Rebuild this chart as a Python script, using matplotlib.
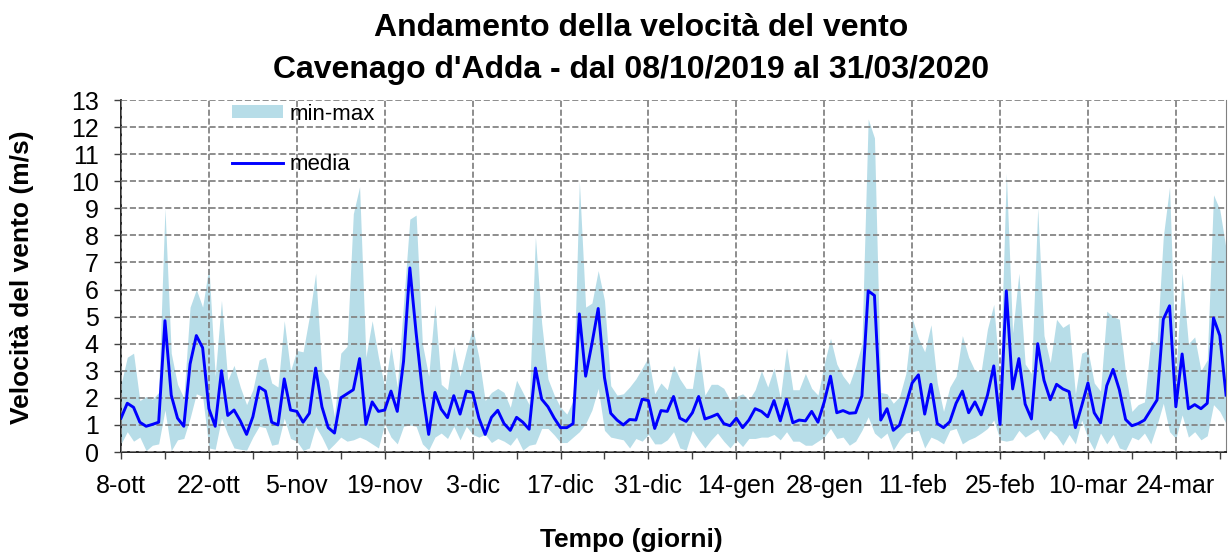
# Andamento della velocità del vento - Cavenago d'Adda (min-max band + daily mean)

import numpy as np
import matplotlib.pyplot as plt
from matplotlib.ticker import MultipleLocator

# daily values from 8 Oct 2019 on (m/s)
media = [1.25, 1.8, 1.65, 1.1, 0.95, 1.02, 1.1, 4.85, 2.1, 1.25,
         0.95, 3.25, 4.3, 3.85, 1.6, 0.95, 3.0, 1.35, 1.55, 1.15,
         0.65, 1.3, 2.4, 2.25, 1.1, 1.0, 2.7, 1.55, 1.5, 1.1,
         1.43, 3.1, 1.67, 0.9, 0.7, 2.0, 2.15, 2.3, 3.45, 1.02,
         1.85, 1.5, 1.55, 2.25, 1.5, 3.35, 6.8, 4.4, 2.25, 0.65,
         2.2, 1.58, 1.27, 2.08, 1.4, 2.25, 2.2, 1.25, 0.65, 1.28,
         1.54, 1.05, 0.8, 1.28, 1.1, 0.84, 3.1, 1.95, 1.67, 1.25,
         0.9, 0.9, 1.05, 5.1, 2.8, 4.0, 5.3, 2.75, 1.43, 1.18,
         1.0, 1.2, 1.18, 1.95, 1.9, 0.87, 1.53, 1.5, 2.05, 1.25,
         1.13, 1.45, 2.05, 1.22, 1.3, 1.4, 1.05, 0.97, 1.25, 0.9,
         1.18, 1.6, 1.5, 1.3, 1.9, 1.15, 1.95, 1.08, 1.18, 1.15,
         1.5, 1.1, 1.85, 2.8, 1.45, 1.53, 1.43, 1.45, 2.07, 5.95,
         5.78, 1.18, 1.6, 0.8, 1.0, 1.75, 2.55, 2.85, 1.4, 2.5,
         1.05, 0.9, 1.12, 1.8, 2.25, 1.45, 1.85, 1.37, 2.1, 3.18,
         1.02, 5.95, 2.33, 3.45, 1.77, 1.22, 4.0, 2.65, 1.93, 2.5,
         2.33, 2.23, 0.9, 1.7, 2.55, 1.45, 1.08, 2.45, 3.05, 2.3,
         1.2, 0.97, 1.05, 1.18, 1.55, 1.92, 4.9, 5.4, 1.67, 3.62,
         1.6, 1.75, 1.6, 1.8, 4.95, 4.3, 2.1]

vmax = [2.5, 3.5, 3.65, 1.9, 2.05, 1.95, 2.2, 9.0, 3.65, 2.5,
        2.0, 5.35, 6.0, 5.35, 6.85, 2.8, 5.6, 2.65, 3.2, 2.4,
        1.75, 2.3, 3.4, 3.5, 2.55, 2.4, 4.85, 3.0, 3.75, 3.7,
        5.0, 6.6, 3.0, 2.65, 1.3, 3.65, 3.9, 8.8, 9.8, 3.5,
        4.85, 3.5, 2.4, 3.9, 2.4, 5.5, 8.6, 8.75, 4.0, 2.8,
        5.45, 2.5, 2.3, 3.9, 2.8, 3.75, 4.6, 3.5, 1.9, 2.2,
        2.35, 2.2, 1.65, 2.65, 2.2, 1.75, 7.95, 4.75, 2.7, 2.1,
        1.65, 1.4, 1.9, 10.0, 5.35, 5.5, 6.7, 5.6, 2.45, 2.1,
        2.15, 2.4, 2.7, 3.1, 3.5, 2.15, 2.55, 2.3, 3.2, 2.7,
        2.35, 2.35, 3.9, 2.1, 2.5, 2.5, 2.35, 1.92, 2.05, 2.15,
        1.92, 2.3, 3.0, 2.4, 3.1, 2.0, 3.85, 2.3, 2.3, 2.9,
        2.35, 2.1, 3.25, 4.2, 3.25, 2.8, 2.5, 3.15, 4.0, 12.3,
        11.6, 2.2, 2.15, 1.8, 2.05, 2.9, 4.95, 4.2, 3.7, 4.7,
        2.55, 1.5, 2.4, 2.8, 4.3, 3.5, 3.0, 3.0, 4.55, 5.45,
        2.55, 10.3, 4.4, 6.6, 3.25, 2.9, 9.0, 4.3, 3.3, 4.9,
        4.6, 4.75, 2.15, 3.65, 3.75, 2.55, 2.25, 5.2, 5.0, 4.9,
        2.9, 1.5, 1.75, 1.85, 4.1, 4.0, 7.95, 9.8, 2.9, 6.6,
        4.0, 4.25, 3.0, 3.4, 9.5, 8.95, 7.5]

vmin = [0.3, 0.75, 0.4, 0.55, 0.05, 0.25, 0.3, 1.55, 0.05, 0.45,
        0.5, 1.25, 2.15, 2.05, 0.15, 0.1, 1.25, 0.65, 0.15, 0.1,
        0.07, 0.55, 0.95, 0.9, 0.25, 0.3, 1.25, 0.5, 0.4, 0.06,
        0.15, 0.95, 0.55, 0.07, 0.3, 0.55, 0.4, 0.45, 0.55, 0.45,
        0.3, 0.15, 1.05, 0.55, 0.3, 0.95, 1.0, 0.95, 0.3, 0.07,
        0.55, 0.7, 0.5, 0.95, 0.45, 0.95, 0.65, 0.55, 0.65, 0.35,
        0.5, 0.4, 0.25, 0.55, 0.07, 0.25, 0.3, 0.87, 0.87, 0.63,
        0.35, 0.35, 0.55, 0.75, 1.05, 1.55, 2.35, 0.8, 0.55, 0.5,
        0.45, 0.15, 0.5, 0.4, 0.65, 0.3, 0.3, 0.45, 0.75, 0.15,
        0.07, 0.8, 0.45, 0.15, 0.45, 0.7, 0.4, 0.15, 0.45, 0.2,
        0.5, 0.5, 0.55, 0.55, 0.65, 0.45, 0.75, 0.4, 0.4, 0.25,
        0.25, 0.4, 0.55, 0.87, 0.5, 0.55, 0.25, 0.4, 0.8, 1.3,
        0.7, 0.5, 0.7, 0.07, 0.45, 0.7, 0.75, 0.8, 0.15, 0.55,
        0.45, 0.3, 0.8, 0.87, 0.3, 0.45, 0.55, 0.7, 0.87, 1.18,
        0.45, 0.4, 0.45, 0.8, 0.55, 0.7, 0.85, 0.45, 0.8, 0.6,
        0.25, 0.65, 0.3, 1.18, 0.5, 0.07, 0.7, 0.3, 0.65, 0.15,
        0.07, 0.55, 0.45, 0.7, 0.3, 1.0, 1.8, 0.75, 0.5, 1.37,
        0.55, 0.75, 0.45, 0.6, 1.75, 1.5, 1.05]

tick_labels = ['8-ott', '22-ott', '5-nov', '19-nov', '3-dic', '17-dic', '31-dic',
               '14-gen', '28-gen', '11-feb', '25-feb', '10-mar', '24-mar']

plt.rcParams['font.family'] = ['Liberation Sans', 'DejaVu Sans']

giorni = np.arange(len(media))

fig = plt.figure(figsize=(12.31, 5.59), dpi=100)
ax = fig.add_axes([0.0983, 0.1914, 0.8977, 0.6297])

ax.fill_between(giorni, vmin, vmax, color='#b7dde8', lw=0, label='min-max', zorder=1)
ax.plot(giorni, media, color='#0000ff', lw=2.1, label='media', zorder=3)

ax.set_xlim(0, 176)
ax.set_ylim(0, 13)
ax.set_xticks(np.arange(0, 176, 14))
ax.set_xticklabels(tick_labels)
ax.xaxis.set_minor_locator(MultipleLocator(7))
ax.yaxis.set_major_locator(MultipleLocator(1))

ax.set_axisbelow(False)
ax.grid(True, which='major', color='#858585', ls=(0, (3.4, 1.5)), lw=1.3, zorder=2)

ax.tick_params(axis='both', which='both', direction='out', length=5, width=1,
               color='#404040', labelsize=18)
ax.tick_params(axis='x', pad=11)
ax.tick_params(axis='y', pad=11)

ax.spines['top'].set_visible(False)
ax.spines['right'].set_color('#808080')
ax.spines['left'].set_linewidth(1.2)
ax.spines['bottom'].set_linewidth(1.2)

fig.text(22 / 1231, 1 - 277 / 559, 'Velocità del vento (m/s)', rotation=90,
         ha='center', va='center', fontsize=19, fontweight='bold')
fig.text(631 / 1231, 0.034, 'Tempo (giorni)', ha='center', va='center',
         fontsize=19, fontweight='bold')

fig.text(0.521, 1 - 36 / 559, 'Andamento della velocità del vento', ha='center', va='baseline',
         fontsize=23, fontweight='bold')
fig.text(0.513, 1 - 78 / 559, "Cavenago d'Adda - dal 08/10/2019 al 31/03/2020", ha='center',
         va='baseline', fontsize=23, fontweight='bold')

ax.legend(loc='upper left', bbox_to_anchor=(0.1005, 0.99), frameon=False, fontsize=16,
          handlelength=2.3, handleheight=0.55, handletextpad=0.27, labelspacing=1.32,
          borderpad=0, borderaxespad=0)

fig.savefig('out.png', dpi=100)
